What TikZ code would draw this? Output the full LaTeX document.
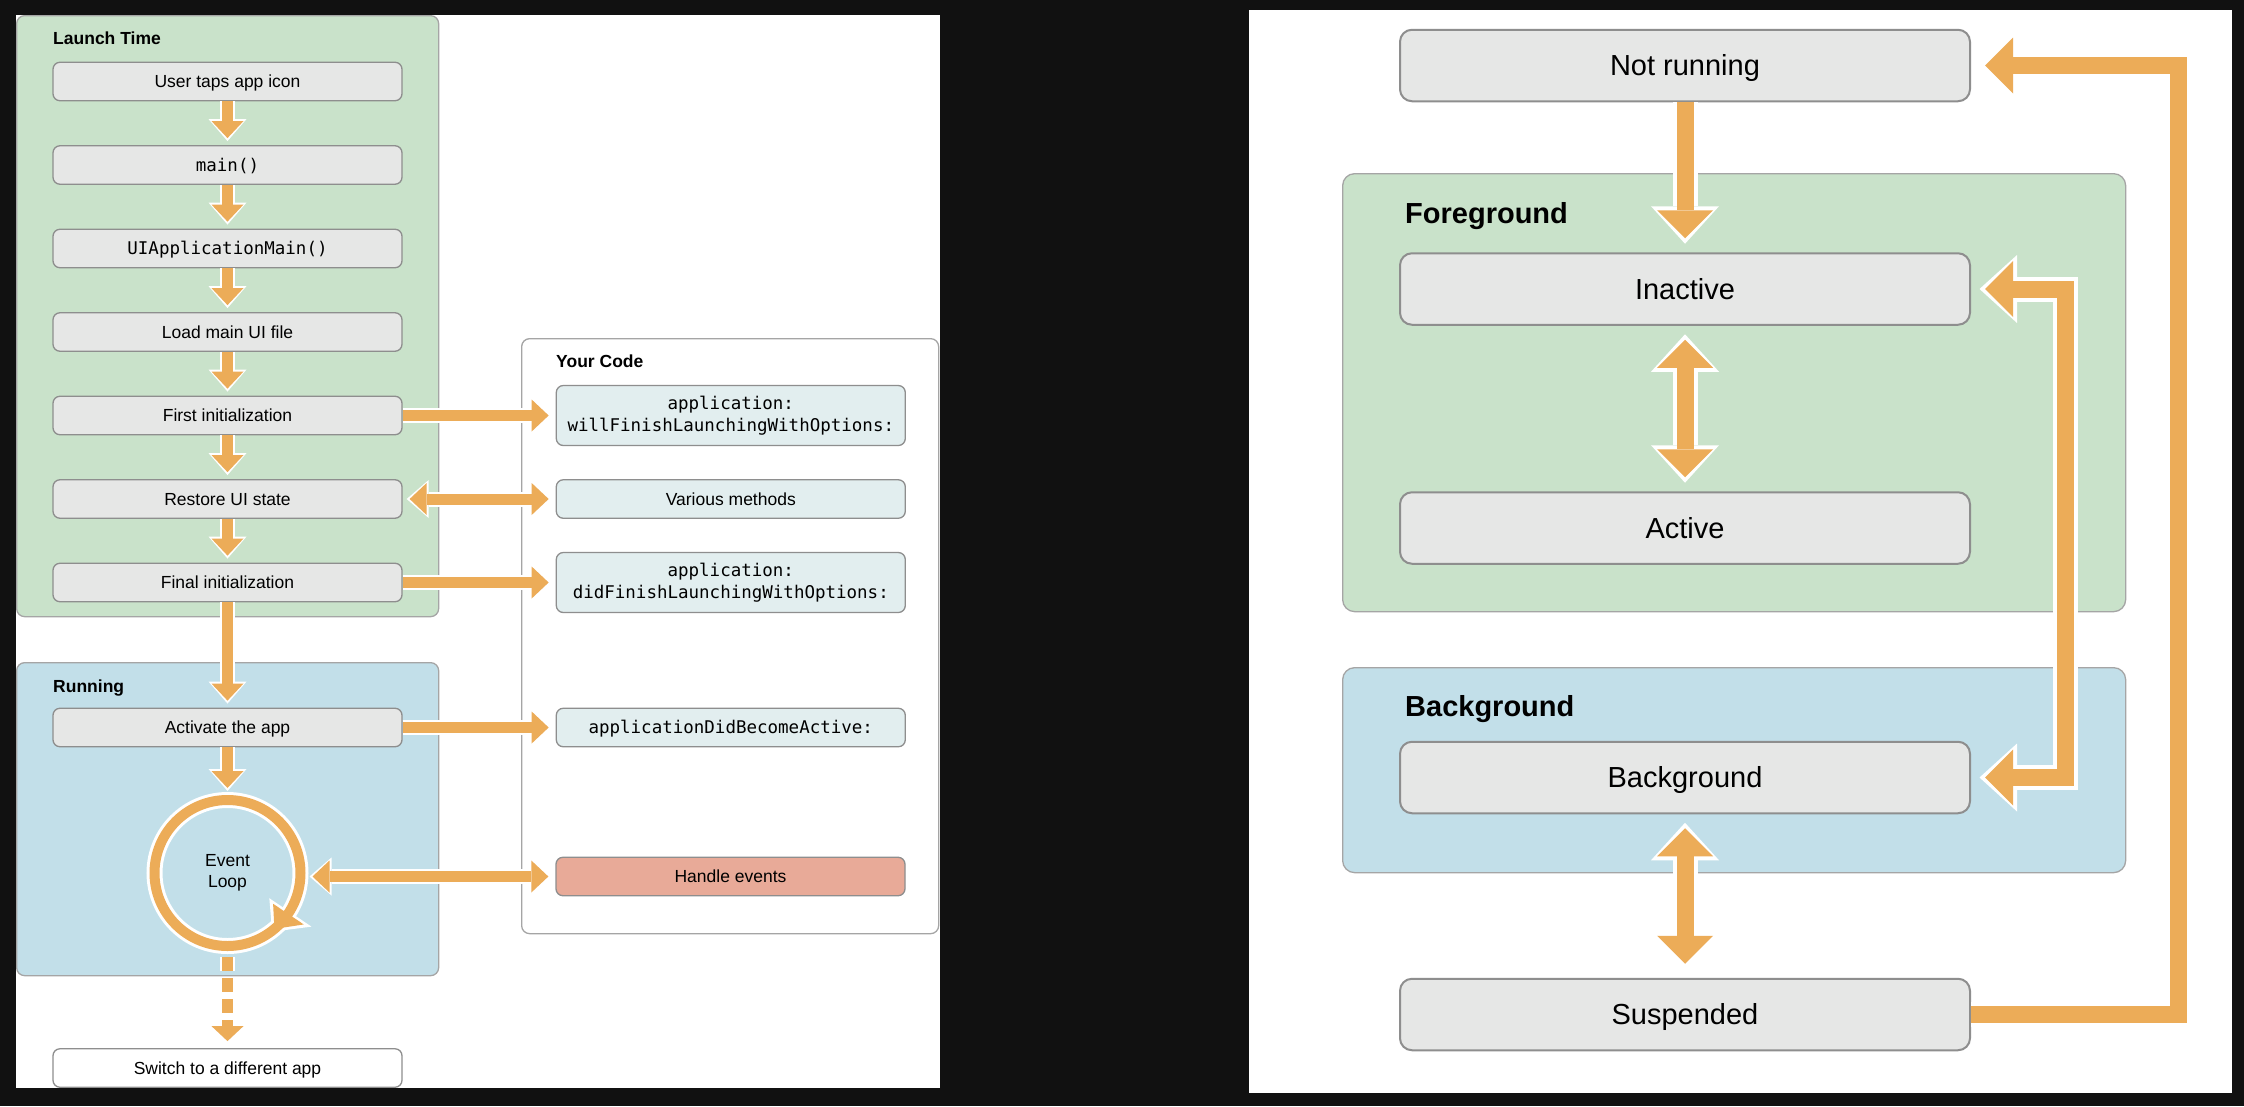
\documentclass[tikz,border=0pt]{standalone}
\usepackage{fontspec}
\setmainfont{Liberation Sans}
\setmonofont{DejaVu Sans Mono}
\usetikzlibrary{calc}
\usetikzlibrary{positioning}
\usetikzlibrary{arrows.meta}

\definecolor{night}{HTML}{111111}
\definecolor{rim}{HTML}{8E8E8E}
\definecolor{boxgray}{HTML}{E6E7E6}
\definecolor{codefill}{HTML}{E2EEEF}
\definecolor{launchgreen}{HTML}{C9E2CA}
\definecolor{runblue}{HTML}{C2DFE9}
\definecolor{salmon}{HTML}{E8AA98}
\definecolor{orng}{HTML}{ECAC58}

\begin{document}
\begin{tikzpicture}[
  x=1pt, y=-1pt,
  every node/.style={inner sep=0pt, font=\fontsize{17.5}{21.5}\selectfont},
  node distance=43.7pt,
  stepbox/.style={draw=rim, fill=boxgray, line width=1.3pt, rounded corners=7pt, minimum width=349pt, minimum height=38.5pt, text height=12.5pt, text depth=0pt},
  codebox/.style={stepbox, fill=codefill, align=center},
  twoline/.style={codebox, minimum height=60pt, text height=, text depth=, font=\fontsize{17.5}{21.5}\selectfont\ttfamily},
  grp/.style={draw=rim!80, line width=1.3pt, rounded corners=8pt, anchor=north west},
  title/.style={anchor=west, font=\fontsize{17.5}{21}\selectfont\bfseries, text height=12.5pt, text depth=0pt},
  state/.style={stepbox, line width=2pt, minimum width=570pt, minimum height=71.5pt, rounded corners=12pt, font=\fontsize{29}{34}\selectfont, text height=20.8pt},
  bigtitle/.style={title, font=\fontsize{29}{34}\selectfont\bfseries, text height=20.8pt},
  fat/.style={draw=orng, line width=11pt, shorten >=7pt,
    -{Triangle[length=17pt 0 0,width=32pt 0 0,line width=0pt 0 0]},
    preaction={draw=white, line width=15pt, shorten >=4pt,
      -{Triangle[length=22pt 0 0,width=38pt 0 0,line width=0pt 0 0]}}},
  fatboth/.style={draw=orng, line width=11pt, shorten >=7pt, shorten <=7pt,
    {Triangle[length=17pt 0 0,width=32pt 0 0,line width=0pt 0 0]}-{Triangle[length=17pt 0 0,width=32pt 0 0,line width=0pt 0 0]},
    preaction={draw=white, line width=15pt, shorten >=4pt, shorten <=4pt,
      {Triangle[length=22pt 0 0,width=38pt 0 0,line width=0pt 0 0]}-{Triangle[length=22pt 0 0,width=38pt 0 0,line width=0pt 0 0]}}},
  dashfat/.style={draw=orng, line width=11pt, dash pattern=on 14pt off 7pt, shorten <=6pt, shorten >=7pt,
    -{Triangle[length=15pt 0 0,width=32pt 0 0,line width=0pt 0 0]},
    preaction={draw=white, line width=15pt, dash pattern=on 14pt off 7pt}},
  big/.style={draw=orng, line width=17pt, shorten >=14pt,
    -{Triangle[length=28pt 0 0,width=56pt 0 0,line width=0pt 0 0]},
    preaction={draw=white, line width=25pt, shorten >=8.5pt,
      -{Triangle[length=37.5pt 0 0,width=68pt 0 0,line width=0pt 0 0]}}},
  bigboth/.style={draw=orng, line width=17pt, shorten >=14pt, shorten <=14pt,
    {Triangle[length=28pt 0 0,width=56pt 0 0,line width=0pt 0 0]}-{Triangle[length=28pt 0 0,width=56pt 0 0,line width=0pt 0 0]},
    preaction={draw=white, line width=25pt, shorten >=8.5pt, shorten <=8.5pt,
      {Triangle[length=37.5pt 0 0,width=68pt 0 0,line width=0pt 0 0]}-{Triangle[length=37.5pt 0 0,width=68pt 0 0,line width=0pt 0 0]}}}
  ]
  \useasboundingbox (0,0) rectangle (2244,1106);
  \fill[night] (0,0) rectangle (2244,1106);
  \fill[white] (16,15) rectangle (940,1088);
  \fill[white] (1249,10) rectangle (2232,1093);

  % launch sequence
  \node[grp, fill=launchgreen, minimum width=422pt, minimum height=601pt](launch) at (16,15) {};
  \node[grp, fill=runblue, minimum width=422pt, minimum height=313pt](running) at (16,662) {};
  \node[grp, fill=white, minimum width=417pt, minimum height=595pt](yourcode) at (521,338) {};
  \node[title] at (53,38) {Launch Time};
  \node[title] at (53,686) {Running};
  \node[title] at (556,361) {Your Code};

  \node[stepbox](tap) at (227.5,81.5) {User taps app icon};
  \node[stepbox, below=of tap](mainfn) {\ttfamily main()};
  \node[stepbox, below=of mainfn](uimain) {\ttfamily UIApplicationMain()};
  \node[stepbox, below=of uimain](loadui) {Load main UI file};
  \node[stepbox, below=of loadui](firstinit) {First initialization};
  \node[stepbox, below=of firstinit](restore) {Restore UI state};
  \node[stepbox, below=of restore](finalinit) {Final initialization};
  \node[stepbox](activate) at (227.5,727.5) {Activate the app};
  \node[stepbox, fill=white](switch) at (227.5,1068) {Switch to a different app};

  \node[twoline, right=153pt of firstinit](willfinish) {application:\\willFinishLaunchingWithOptions:};
  \node[codebox, right=153pt of restore](various) {Various methods};
  \node[twoline, right=153pt of finalinit](didfinish) {application:\\didFinishLaunchingWithOptions:};
  \node[codebox, right=153pt of activate](becomeactive) {\ttfamily applicationDidBecomeActive:};
  \node[codebox, fill=salmon](events) at (730.5,876.5) {Handle events};

  % event loop
  \coordinate (lc) at (227.5,873);
  \filldraw[white, line width=5pt] ($(lc)+(34:54)$) -- ($(lc)+(50:73)$) -- ($(lc)+(34:93)$) -- cycle;
  \node[circle, draw=orng, line width=10pt, minimum size=146pt, align=center,
    preaction={draw=white, line width=16pt}](loop) at (lc) {Event\\Loop};
  \fill[orng] ($(lc)+(34:55)$) -- ($(lc)+(50:73)$) -- ($(lc)+(34:92)$) -- cycle;

  \draw[fat] (tap) -- (mainfn);
  \draw[fat] (mainfn) -- (uimain);
  \draw[fat] (uimain) -- (loadui);
  \draw[fat] (loadui) -- (firstinit);
  \draw[fat] (firstinit) -- (restore);
  \draw[fat] (restore) -- (finalinit);
  \draw[fat] (finalinit) -- (activate);
  \draw[fat] (activate) -- (loop);
  \draw[dashfat] (loop) -- (switch);
  \draw[fat] (firstinit.east) -- (firstinit.east -| willfinish.west);
  \draw[fatboth] (restore) -- (various);
  \draw[fat] (finalinit.east) -- (finalinit.east -| didfinish.west);
  \draw[fat] (activate) -- (becomeactive);
  \draw[fatboth] (events.west) -- (events.west -| loop.east);

  % app states
  \node[grp, fill=launchgreen, rounded corners=12pt, minimum width=783pt, minimum height=438pt](foreground) at (1342,173) {};
  \node[grp, fill=runblue, rounded corners=12pt, minimum width=783pt, minimum height=205pt](background) at (1342,667) {};
  \node[bigtitle] at (1405,213) {Foreground};
  \node[bigtitle] at (1405,706) {Background};

  \node[state](notrunning) at (1685,65.5) {Not running};
  \node[state](inactive) at (1685,289) {Inactive};
  \node[state, below=165.5pt of inactive](active) {Active};
  \node[state](bgstate) at (1685,777.5) {Background};
  \node[state](suspended) at (1685,1014.5) {Suspended};

  \draw[big] (notrunning) -- (inactive);
  \draw[bigboth] (inactive) -- (active);
  \draw[bigboth] (bgstate) -- (suspended);
  \draw[bigboth] (inactive.east) -- ++(94,0) |- (bgstate.east);
  \draw[big] (suspended.east) -- ++(207,0) |- (notrunning.east);
\end{tikzpicture}
\end{document}
